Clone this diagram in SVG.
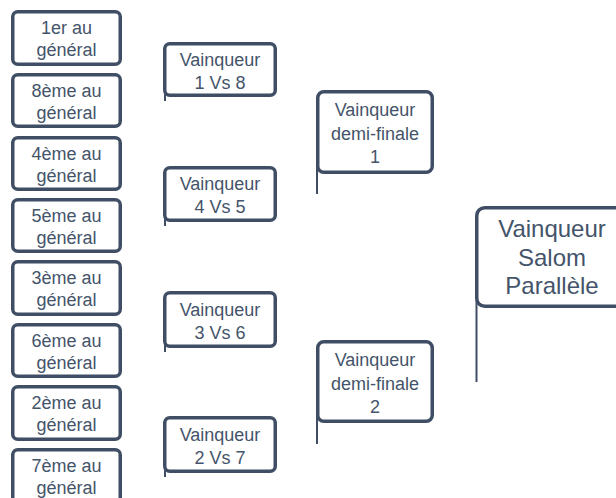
<svg xmlns="http://www.w3.org/2000/svg" width="616" height="498" viewBox="0 0 616 498">
<style>
.box{fill:#ffffff;stroke:#3f4e65;stroke-width:3.5}
.t{font-family:"Liberation Sans",Arial,sans-serif;font-size:18px;fill:#44546a;text-anchor:middle}
.tb{font-family:"Liberation Sans",Arial,sans-serif;font-size:24px;fill:#44546a;text-anchor:middle}
.c{stroke:#3f4e65;stroke-width:2;fill:none}
</style>
<rect width="616" height="498" fill="#ffffff"/>
<g id="connectors">
<line class="c" x1="165" y1="90" x2="165" y2="101"/>
<line class="c" x1="165" y1="215" x2="165" y2="226"/>
<line class="c" x1="165" y1="341" x2="165" y2="352"/>
<line class="c" x1="165" y1="466" x2="165" y2="477"/>
<line class="c" x1="317" y1="166" x2="317" y2="194"/>
<line class="c" x1="317" y1="415" x2="317" y2="444"/>
<line class="c" x1="476.5" y1="300" x2="476.5" y2="382"/>
</g>
<g id="seed1"><rect class="box" x="12.75" y="11.75" width="107.5" height="52.5" rx="5"/><text class="t" x="66.5" y="33.5">1er au</text><text class="t" x="66.5" y="55.5">général</text></g>
<g id="seed8"><rect class="box" x="12.75" y="74.75" width="107.5" height="51.5" rx="5"/><text class="t" x="66.5" y="96.5">8ème au</text><text class="t" x="66.5" y="118.5">général</text></g>
<g id="seed4"><rect class="box" x="12.75" y="137.75" width="107.5" height="51.5" rx="5"/><text class="t" x="66.5" y="159.5">4ème au</text><text class="t" x="66.5" y="181.5">général</text></g>
<g id="seed5"><rect class="box" x="12.75" y="199.75" width="107.5" height="51.5" rx="5"/><text class="t" x="66.5" y="221.5">5ème au</text><text class="t" x="66.5" y="243.5">général</text></g>
<g id="seed3"><rect class="box" x="12.75" y="261.75" width="107.5" height="52.5" rx="5"/><text class="t" x="66.5" y="283.5">3ème au</text><text class="t" x="66.5" y="305.5">général</text></g>
<g id="seed6"><rect class="box" x="12.75" y="324.75" width="107.5" height="51.5" rx="5"/><text class="t" x="66.5" y="346.5">6ème au</text><text class="t" x="66.5" y="368.5">général</text></g>
<g id="seed2"><rect class="box" x="12.75" y="386.75" width="107.5" height="52.5" rx="5"/><text class="t" x="66.5" y="408.5">2ème au</text><text class="t" x="66.5" y="430.5">général</text></g>
<g id="seed7"><rect class="box" x="12.75" y="449.75" width="107.5" height="52.5" rx="5"/><text class="t" x="66.5" y="472">7ème au</text><text class="t" x="66.5" y="494">général</text></g>
<g id="r1-1"><rect class="box" x="164.75" y="43.75" width="110.5" height="51.5" rx="5"/><text class="t" x="220" y="65.5">Vainqueur</text><text class="t" x="220" y="88.5">1 Vs 8</text></g>
<g id="r1-2"><rect class="box" x="164.75" y="167.75" width="110.5" height="52.5" rx="5"/><text class="t" x="220" y="190">Vainqueur</text><text class="t" x="220" y="213">4 Vs 5</text></g>
<g id="r1-3"><rect class="box" x="164.75" y="292.75" width="110.5" height="53.5" rx="5"/><text class="t" x="220" y="315.5">Vainqueur</text><text class="t" x="220" y="338.5">3 Vs 6</text></g>
<g id="r1-4"><rect class="box" x="164.75" y="417.75" width="110.5" height="53.5" rx="5"/><text class="t" x="220" y="440.5">Vainqueur</text><text class="t" x="220" y="463.5">2 Vs 7</text></g>
<g id="semi1"><rect class="box" x="317.75" y="91.75" width="114.5" height="80.5" rx="6"/><text class="t" x="375" y="116">Vainqueur</text><text class="t" x="375" y="139.5">demi-finale</text><text class="t" x="375" y="163">1</text></g>
<g id="semi2"><rect class="box" x="317.75" y="341.75" width="114.5" height="79.5" rx="6"/><text class="t" x="375" y="366">Vainqueur</text><text class="t" x="375" y="389.5">demi-finale</text><text class="t" x="375" y="413">2</text></g>
<g id="final"><rect class="box" x="476.75" y="207.75" width="160" height="98.5" rx="8"/><text class="tb" x="552" y="237">Vainqueur</text><text class="tb" x="552" y="265.5">Salom</text><text class="tb" x="552" y="294">Parallèle</text></g>
</svg>
